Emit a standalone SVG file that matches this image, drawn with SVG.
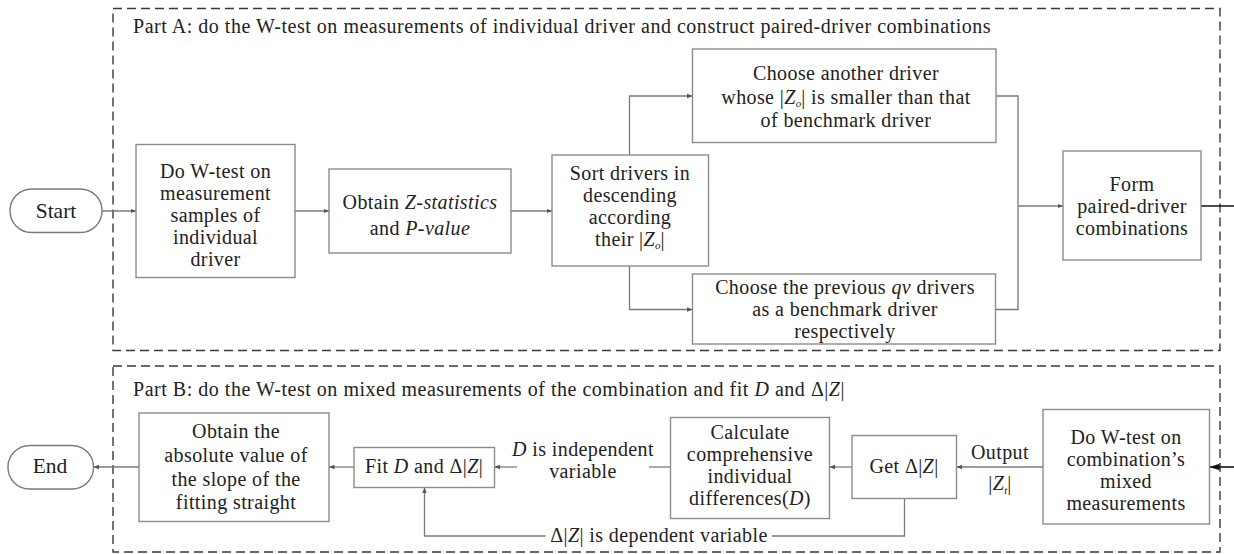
<svg xmlns="http://www.w3.org/2000/svg" width="1234" height="554" viewBox="0 0 1234 554">
<style>
  text { font-family: "Liberation Serif", "Times New Roman", serif; fill: #222; }
  .t { font-size: 20px; letter-spacing: 0.4px; text-anchor: middle; }
  .title { font-size: 20px; letter-spacing: 0.52px; }
  .term { font-size: 21.5px; text-anchor: middle; }
  .lbl { font-size: 20px; letter-spacing: 0.4px; text-anchor: middle; }
  .box { fill: #ffffff; stroke: #8c8c8c; stroke-width: 1.4; }
  .pill { fill: #ffffff; stroke: #7a7a7a; stroke-width: 1.4; }
  .part { fill: none; stroke: #3a3a3a; stroke-width: 1.4; stroke-dasharray: 9 5; }
  .c { fill: none; stroke: #7a7a7a; stroke-width: 1.3; }
  .ca { fill: none; stroke: #7a7a7a; stroke-width: 1.3; marker-end: url(#arr); }
  .k { fill: none; stroke: #111; stroke-width: 1.6; }
  .i { font-style: italic; }
  .sub { font-style: italic; font-size: 11px; letter-spacing: 0; }
</style>
<defs>
  <marker id="arr" markerUnits="userSpaceOnUse" markerWidth="7" markerHeight="6" refX="5.5" refY="3" orient="auto">
    <path d="M0,0.8 L5.5,3 L0,5.2 z" fill="#555"/>
  </marker>
  <marker id="arrk" markerUnits="userSpaceOnUse" markerWidth="11" markerHeight="8" refX="10" refY="4" orient="auto">
    <path d="M0,0.8 L10,4 L0,7.2 z" fill="#111"/>
  </marker>
</defs>

<g id="partA">
  <rect class="part" x="113" y="8.5" width="1107" height="342"/>
  <text class="title" x="133" y="33">Part A: do the W-test on measurements of individual driver and construct paired-driver combinations</text>
</g>
<g id="partB">
  <rect class="part" x="113" y="366" width="1107" height="186"/>
  <text class="title" x="133" y="396">Part B: do the W-test on mixed measurements of the combination and fit <tspan class="i">D</tspan> and Δ|<tspan class="i">Z</tspan>|</text>
</g>

<g id="connectors">
  <line class="ca" x1="102" y1="211" x2="136" y2="211"/>
  <line class="ca" x1="295" y1="211" x2="329" y2="211"/>
  <line class="ca" x1="511" y1="211" x2="552" y2="211"/>
  <polyline class="ca" points="629.5,155 629.5,96 692.5,96"/>
  <polyline class="ca" points="629.5,266 629.5,309.5 692.5,309.5"/>
  <polyline class="c" points="996,96 1018,96 1018,309.5 995.5,309.5"/>
  <line class="ca" x1="1018" y1="206" x2="1063" y2="206"/>
  <line class="k" x1="1201" y1="206" x2="1234" y2="206"/>
  <line class="k" x1="1234" y1="467" x2="1209.5" y2="467" marker-end="url(#arrk)"/>
  <line class="ca" x1="1043" y1="467" x2="956.5" y2="467"/>
  <line class="ca" x1="852" y1="467" x2="829.5" y2="467"/>
  <line class="c" x1="670.5" y1="467" x2="649" y2="467"/>
  <line class="ca" x1="517" y1="467" x2="494.5" y2="467"/>
  <line class="ca" x1="354" y1="467" x2="329" y2="467"/>
  <line class="ca" x1="139" y1="467" x2="93.5" y2="467"/>
  <polyline class="c" points="904.5,498.5 904.5,536 772,536"/>
  <polyline class="ca" points="545.5,536 424.5,536 424.5,487.5"/>
  <text class="lbl" x="1000" y="459">Output</text>
  <text class="lbl" x="1000" y="490">|<tspan class="i">Z</tspan><tspan class="sub" dy="4">t</tspan><tspan dy="-4">|</tspan></text>
  <text class="lbl" x="583" y="456"><tspan class="i">D</tspan> is independent</text>
  <text class="lbl" x="583" y="478">variable</text>
  <text class="lbl" x="659" y="542">Δ|<tspan class="i">Z</tspan>| is dependent variable</text>
</g>

<g id="start">
  <rect class="pill" x="10" y="189" width="92" height="43.5" rx="21.5"/>
  <text class="term" x="56" y="218">Start</text>
</g>
<g id="dowtest">
  <rect class="box" x="136" y="144.5" width="159" height="133"/>
  <text class="t" x="215.5" y="178">Do W-test on</text>
  <text class="t" x="215.5" y="200">measurement</text>
  <text class="t" x="215.5" y="222">samples of</text>
  <text class="t" x="215.5" y="244">individual</text>
  <text class="t" x="215.5" y="266">driver</text>
</g>
<g id="obtainz">
  <rect class="box" x="329" y="169" width="182" height="84"/>
  <text class="t" x="420" y="209">Obtain <tspan class="i">Z-statistics</tspan></text>
  <text class="t" x="420" y="235">and <tspan class="i">P-value</tspan></text>
</g>
<g id="sort">
  <rect class="box" x="552" y="155" width="156.5" height="111"/>
  <text class="t" x="630" y="180">Sort drivers in</text>
  <text class="t" x="630" y="202">descending</text>
  <text class="t" x="630" y="224">according</text>
  <text class="t" x="630" y="246">their |<tspan class="i">Z</tspan><tspan class="sub" dy="3">o</tspan><tspan dy="-3">|</tspan></text>
</g>
<g id="chooseanother">
  <rect class="box" x="692.5" y="49" width="303.5" height="93.5"/>
  <text class="t" x="846" y="80">Choose another driver</text>
  <text class="t" x="846" y="103.5">whose |<tspan class="i">Z</tspan><tspan class="sub" dy="3">o</tspan><tspan dy="-3">| is smaller than that</tspan></text>
  <text class="t" x="846" y="127">of benchmark driver</text>
</g>
<g id="chooseprevious">
  <rect class="box" x="692.5" y="274" width="303" height="70"/>
  <text class="t" x="845" y="293.5">Choose the previous <tspan class="i">qv</tspan> drivers</text>
  <text class="t" x="845" y="315.5">as a benchmark driver</text>
  <text class="t" x="845" y="337.5">respectively</text>
</g>
<g id="formpaired">
  <rect class="box" x="1063" y="151" width="138" height="109"/>
  <text class="t" x="1132" y="191">Form</text>
  <text class="t" x="1132" y="213">paired-driver</text>
  <text class="t" x="1132" y="235">combinations</text>
</g>
<g id="dowtestcomb">
  <rect class="box" x="1043" y="409.5" width="166.5" height="114.5"/>
  <text class="t" x="1126" y="444">Do W-test on</text>
  <text class="t" x="1126" y="466">combination’s</text>
  <text class="t" x="1126" y="488">mixed</text>
  <text class="t" x="1126" y="510">measurements</text>
</g>
<g id="getdz">
  <rect class="box" x="852" y="435.5" width="104.5" height="63"/>
  <text class="t" x="904" y="473">Get Δ|<tspan class="i">Z</tspan>|</text>
</g>
<g id="calculate">
  <rect class="box" x="670.5" y="417.5" width="159" height="101"/>
  <text class="t" x="750" y="439">Calculate</text>
  <text class="t" x="750" y="461">comprehensive</text>
  <text class="t" x="750" y="483">individual</text>
  <text class="t" x="750" y="505">differences(<tspan class="i">D</tspan>)</text>
</g>
<g id="fit">
  <rect class="box" x="354" y="447.5" width="140.5" height="40"/>
  <text class="t" x="424" y="473">Fit <tspan class="i">D</tspan> and Δ|<tspan class="i">Z</tspan>|</text>
</g>
<g id="obtainabs">
  <rect class="box" x="139" y="413" width="190" height="108.5"/>
  <text class="t" x="236" y="438">Obtain the</text>
  <text class="t" x="236" y="462">absolute value of</text>
  <text class="t" x="236" y="485.5">the slope of the</text>
  <text class="t" x="236" y="509">fitting straight</text>
</g>
<g id="end">
  <rect class="pill" x="8" y="445.5" width="85.5" height="43.5" rx="21.5"/>
  <text class="term" x="50" y="473">End</text>
</g>
</svg>
